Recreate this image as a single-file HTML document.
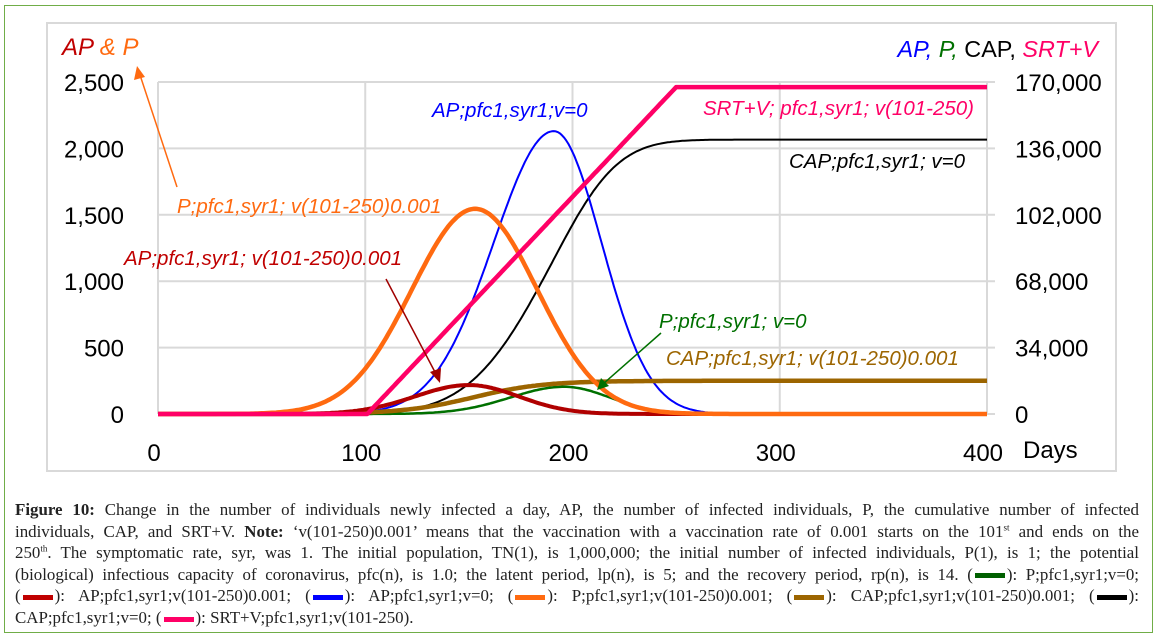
<!DOCTYPE html>
<html><head><meta charset="utf-8">
<style>
html,body{margin:0;padding:0;background:#fff;}
body{width:1158px;height:640px;position:relative;overflow:hidden;}
#frame{position:absolute;left:4px;top:5px;width:1149px;height:628px;border:1px solid #70ad47;box-sizing:border-box;}
#cap{position:absolute;left:15px;top:499px;width:1124px;font-family:"Liberation Serif",serif;font-size:16.9px;line-height:21.6px;color:#222;}
#cap div{text-align:justify;text-align-last:justify;white-space:nowrap;}
#cap div.last{text-align-last:left;}
.sw{display:inline-block;width:30px;height:5px;vertical-align:middle;margin:0 2px;}
svg text{font-family:"Liberation Sans",sans-serif;}
</style></head><body>
<div id="frame"></div>
<svg id="s" width="1158" height="480" style="position:absolute;left:0;top:0">
<rect x="47" y="23" width="1069" height="448" fill="#fff" stroke="#d9d9d9" stroke-width="2"/>
<g id="grid" stroke="#d9d9d9" stroke-width="2"></g>
<g id="curves" fill="none"></g>
<g font-size="24" fill="#000" id="ticks"></g>
<text x="62" y="55" font-size="24" font-style="italic"><tspan fill="#c00000">AP</tspan><tspan fill="#ff6a10"> &amp; P</tspan></text>
<text x="1098" y="57" font-size="23.4" text-anchor="end"><tspan fill="#0000ff" font-style="italic">AP, </tspan><tspan fill="#007000" font-style="italic">P, </tspan><tspan fill="#000">CAP, </tspan><tspan fill="#ff0066" font-style="italic">SRT+V</tspan></text>
<g font-size="20.5" font-style="italic">
<text x="432" y="117" fill="#0000ff">AP;pfc1,syr1;v=0</text>
<text x="177" y="213" fill="#ff6a10">P;pfc1,syr1; v(101-250)0.001</text>
<text x="124" y="265" fill="#c00000">AP;pfc1,syr1; v(101-250)0.001</text>
<text x="974" y="115" fill="#ff0066" text-anchor="end">SRT+V; pfc1,syr1; v(101-250)</text>
<text x="789" y="168" fill="#000">CAP;pfc1,syr1; v=0</text>
<text x="659" y="328" fill="#007000">P;pfc1,syr1; v=0</text>
<text x="666" y="365" fill="#9c6500">CAP;pfc1,syr1; v(101-250)0.001</text>
</g>
<g stroke-width="1.5">
<line x1="177" y1="187" x2="140" y2="75" stroke="#ff6a10"/>
<polygon points="137,66 134,80 145,77" fill="#ff6a10"/>
<line x1="386" y1="279" x2="436" y2="374" stroke="#a00000"/>
<polygon points="440,383 430,372 441,368" fill="#a00000"/>
<line x1="661" y1="333" x2="603" y2="384" stroke="#007000"/>
<polygon points="597,390 601,378 609,386" fill="#007000"/>
</g>
</svg>
<div id="cap">
<div><b>Figure 10:</b> Change in the number of individuals newly infected a day, AP, the number of infected individuals, P, the cumulative number of infected</div>
<div>individuals, CAP, and SRT+V. <b>Note:</b> ‘v(101-250)0.001’ means that the vaccination with a vaccination rate of 0.001 starts on the 101<sup style="font-size:9px;line-height:0">st</sup> and ends on the</div>
<div>250<sup style="font-size:9px;line-height:0">th</sup>. The symptomatic rate, syr, was 1. The initial population, TN(1), is 1,000,000; the initial number of infected individuals, P(1), is 1; the potential</div>
<div>(biological) infectious capacity of coronavirus, pfc(n), is 1.0; the latent period, lp(n), is 5; and the recovery period, rp(n), is 14. (<span class="sw" style="background:#006000"></span>): P;pfc1,syr1;v=0;</div>
<div>(<span class="sw" style="background:#c00000"></span>): AP;pfc1,syr1;v(101-250)0.001; (<span class="sw" style="background:#0000ff"></span>): AP;pfc1,syr1;v=0; (<span class="sw" style="background:#ff6a10"></span>): P;pfc1,syr1;v(101-250)0.001; (<span class="sw" style="background:#9c6500"></span>): CAP;pfc1,syr1;v(101-250)0.001; (<span class="sw" style="background:#000"></span>):</div>
<div class="last">CAP;pfc1,syr1;v=0; (<span class="sw" style="background:#ff0066"></span>): SRT+V;pfc1,syr1;v(101-250).</div>
</div>
<script>
(function(){
var NS="http://www.w3.org/2000/svg";
var X0=158,XS=2.0725,Y0=414,YL=66.4/500,YR=66.4/34000;
function X(d){return X0+d*XS;}
var g=document.getElementById('grid'),t=document.getElementById('ticks'),c=document.getElementById('curves');
function el(p,tag,a,txt){var e=document.createElementNS(NS,tag);for(var k in a)e.setAttribute(k,a[k]);if(txt)e.textContent=txt;p.appendChild(e);return e;}
for(var i=0;i<=5;i++){var y=Y0-i*66.4;el(g,'line',{x1:X0,x2:X(400)+8,y1:y,y2:y});
el(t,'text',{x:124,y:y+9,'text-anchor':'end'},['0','500','1,000','1,500','2,000','2,500'][i]);
el(t,'text',{x:1015,y:y+9},['0','34,000','68,000','102,000','136,000','170,000'][i]);}
for(var i=0;i<=4;i++){var x=X(i*100);el(g,'line',{x1:x,x2:x,y1:Y0-5*66.4,y2:Y0});
el(t,'text',{x:x-4,y:461,'text-anchor':'middle'},String(i*100));}
el(t,'text',{x:1023,y:458},'Days');
function gauss(d,m,a,sl,sr){var s=d<m?sl:sr;return a*Math.exp(-(d-m)*(d-m)/(2*s*s));}
function path(f,sc,col,w){var p='';for(var d=0;d<=400;d+=1){var v=f(d);p+=(d?'L':'M')+X(d).toFixed(1)+','+(Y0-v*sc).toFixed(1);}
el(c,'path',{d:p,stroke:col,'stroke-width':w,'stroke-linejoin':'round'});}
var cum=[],s=0;for(var d=0;d<=400;d++){s+=gauss(d,192,2130,32,24);cum.push(s);}
var tot=s;
path(function(d){return cum[d]/tot*140500;},YR,'#000',2);
path(function(d){return gauss(d,191,2130,29,23);},YL,'#0000ff',2);
path(function(d){return gauss(d,196,205,26,22);},YL,'#007000',2.5);
path(function(d){return 17000/(1+Math.exp(-(d-152)/17))*(d<100?Math.max(0,(d-60)/40)*0.2:1);},YR,'#9c6500',4.5);
path(function(d){return gauss(d,150,218,26,24);},YL,'#b00000',4);
path(function(d){return gauss(d,153,1545,30.5,30);},YL,'#ff6a10',4.5);
path(function(d){return d<=101?0:(d>=250?167400:(d-101)/149*167400);},YR,'#ff0066',4.5);
})();
</script>
</body></html>
